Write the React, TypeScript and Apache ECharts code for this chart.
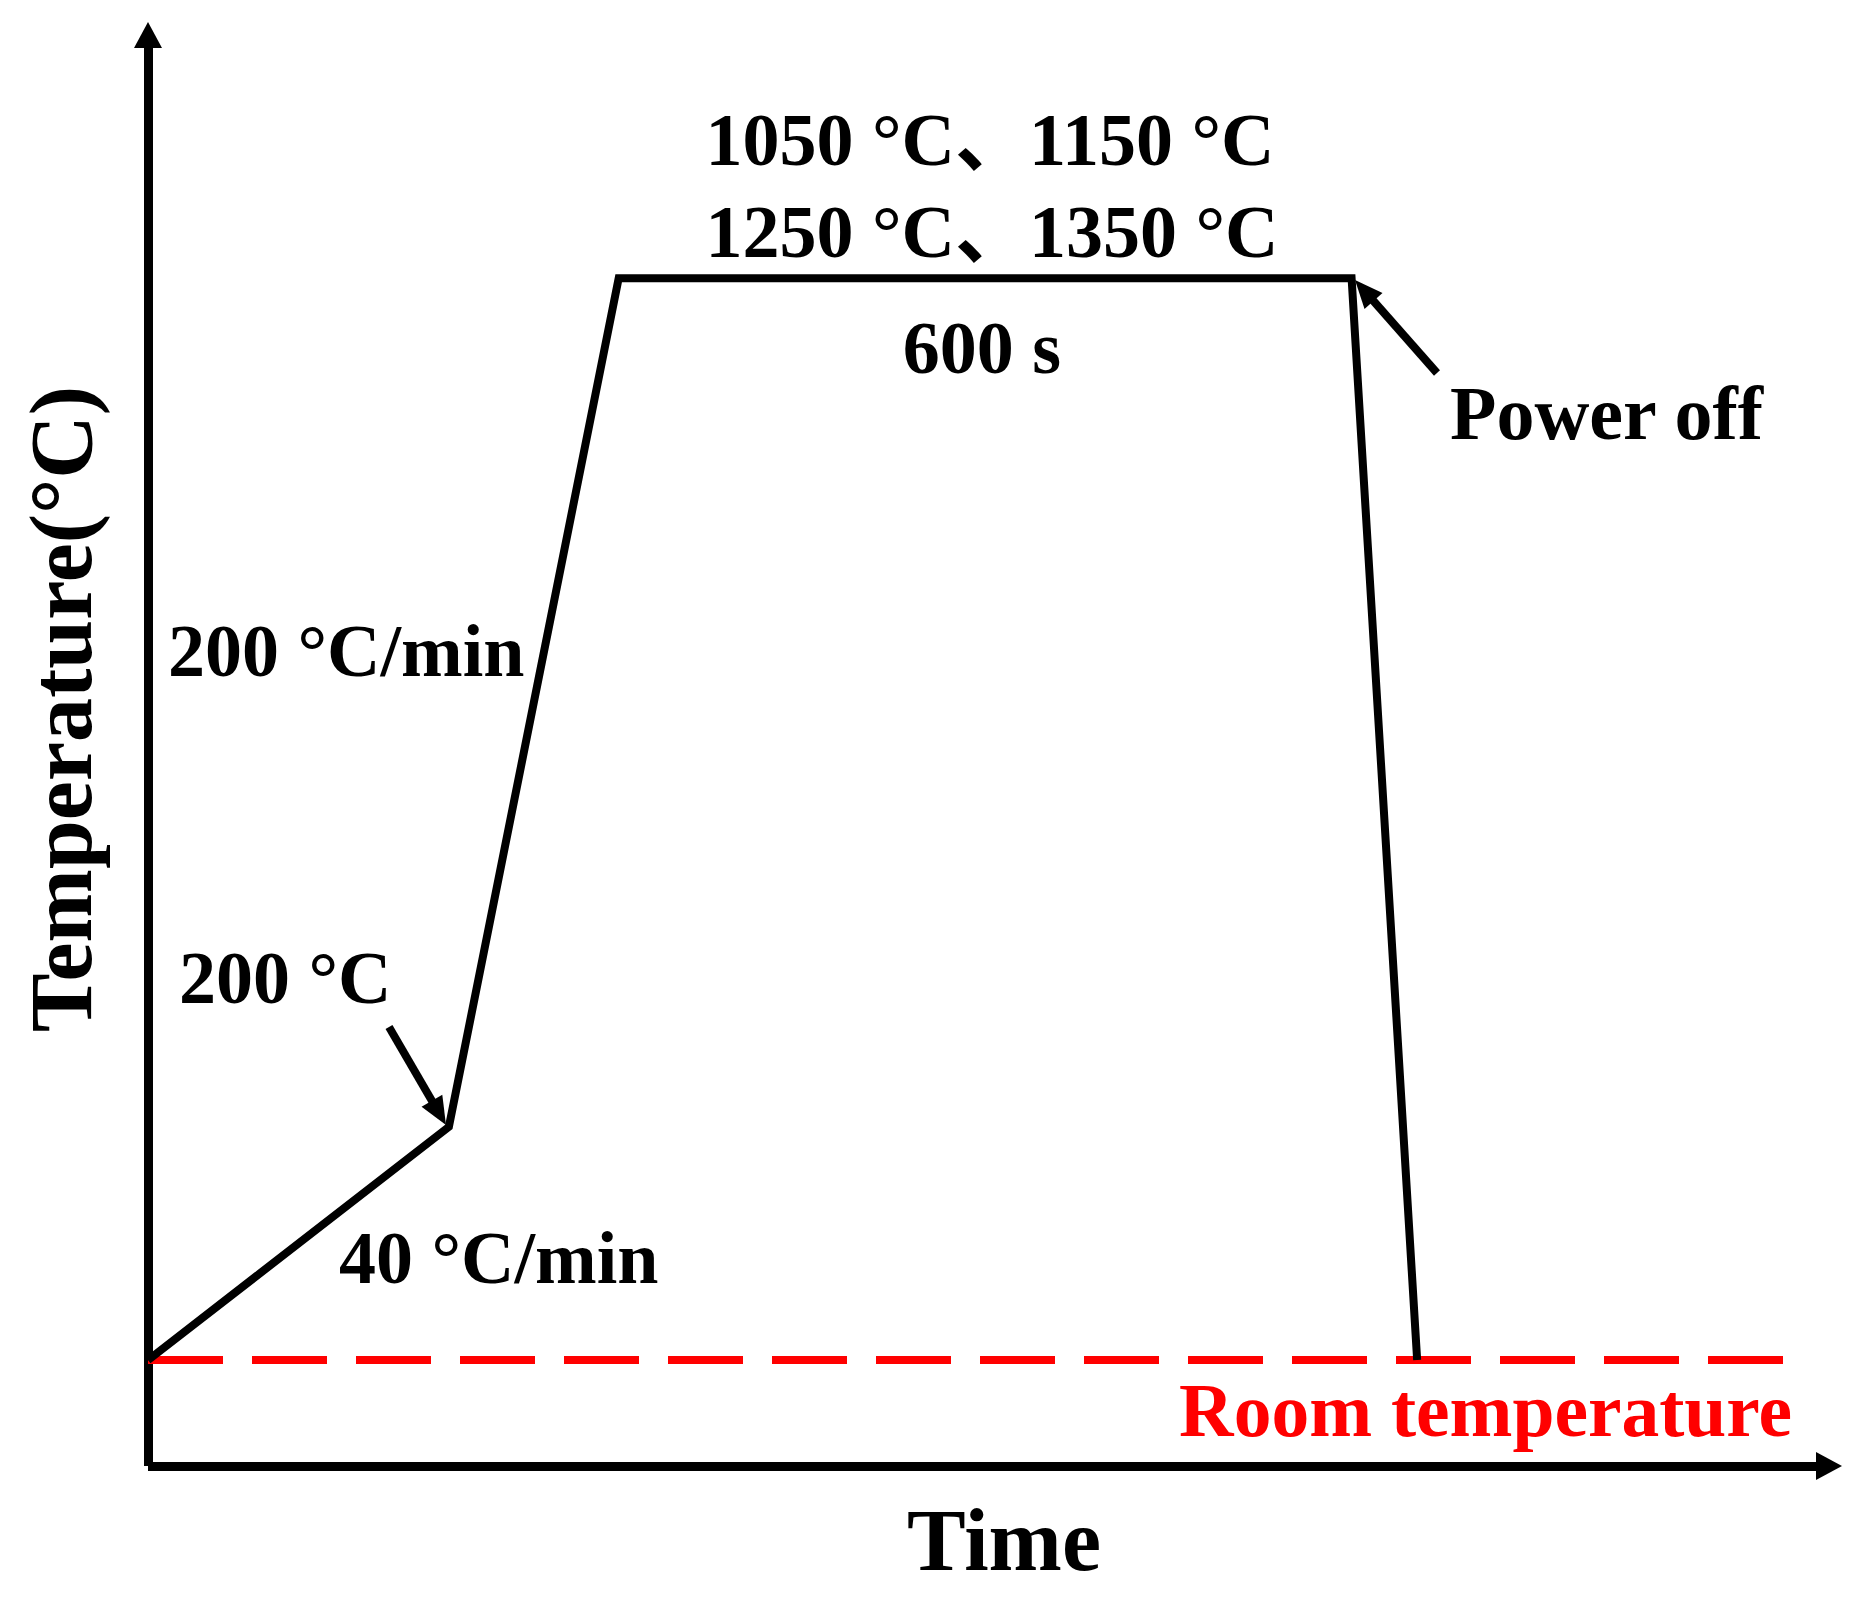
import * as echarts from "echarts";
import { useEffect, useRef } from "react";

// heat-treatment profile, schematic units (0-100 on both axes)
const profileTime = [0, 17.9, 28.0, 71.6, 75.5];
const profileTemp = [7.4, 23.7, 83.0, 83.0, 7.4];
const roomTempLevel = 7.4;
const roomLineEnd = 97.5;

const holdTemps = ["1050 °C、1150 °C", "1250 °C、1350 °C"];
const holdTime = "600 s";
const rateLabels = ["200 °C/min", "40 °C/min"];
const kneeLabel = "200 °C";
const powerOffLabel = "Power off";
const roomLabel = "Room temperature";
const xName = "Time";
const yName = "Temperature(°C)";

const FONT = "'Liberation Serif', 'Times New Roman', 'Noto Sans CJK SC', serif";

function label(text: string, x: number, y: number, align = "left", color = "#000", size = 74) {
	return {
		type: "text",
		x,
		y,
		style: {
			text,
			fill: color,
			fontFamily: FONT,
			fontWeight: "bold",
			fontSize: size,
			align,
			verticalAlign: "middle",
		},
	};
}

function arrow(sx: number, sy: number, tx: number, ty: number) {
	const len = Math.hypot(tx - sx, ty - sy);
	const ux = (tx - sx) / len;
	const uy = (ty - sy) / len;
	const head = 28;
	const half = 12;
	const bx = tx - ux * head;
	const by = ty - uy * head;
	return [
		{
			type: "line",
			shape: { x1: sx, y1: sy, x2: tx - ux * (head - 4), y2: ty - uy * (head - 4) },
			style: { stroke: "#000", lineWidth: 8 },
		},
		{
			type: "polygon",
			shape: {
				points: [
					[tx, ty],
					[bx - uy * half, by + ux * half],
					[bx + uy * half, by - ux * half],
				],
			},
			style: { fill: "#000" },
		},
	];
}

export default function App() {
	const chartRef = useRef<HTMLDivElement>(null);

	useEffect(() => {
		if (!chartRef.current) return;
		document.body.style.margin = "0";
		const chart = echarts.init(chartRef.current, null, { renderer: "svg" });

		const axisCommon = {
			type: "value",
			min: 0,
			max: 100,
			axisLine: {
				show: true,
				symbol: ["none", "triangle"],
				symbolSize: [28, 26],
				lineStyle: { color: "#000", width: 9, cap: "butt" },
			},
			axisTick: { show: false },
			axisLabel: { show: false },
			splitLine: { show: false },
		};

		chart.setOption({
			animation: false,
			backgroundColor: "#fff",
			grid: { left: 148, top: 35, width: 1681, height: 1431 },
			xAxis: axisCommon,
			yAxis: axisCommon,
			series: [
				{
					type: "line",
					data: [
						[0, roomTempLevel],
						[roomLineEnd, roomTempLevel],
					],
					symbol: "none",
					lineStyle: { color: "#ff0000", width: 8, type: [75, 29] },
					silent: true,
				},
				{
					type: "line",
					data: profileTime.map((t, i) => [t, profileTemp[i]]),
					symbol: "none",
					lineStyle: { color: "#000", width: 8, join: "miter" },
					silent: true,
				},
			],
			graphic: [
				label(holdTemps[0], 990, 140, "center"),
				label(holdTemps[1], 992, 232, "center"),
				label(holdTime, 982, 348, "center"),
				label(powerOffLabel, 1450, 413, "left", "#000", 76),
				label(rateLabels[0], 168, 651),
				label(kneeLabel, 179, 978),
				label(rateLabels[1], 339, 1258),
				label(roomLabel, 1792, 1410, "right", "#ff0000", 75.5),
				label(xName, 1004, 1540, "center", "#000", 88),
				{
					...label(yName, 61, 709, "center", "#000", 88),
					rotation: Math.PI / 2,
				},
				...arrow(389, 1027, 446, 1125),
				...arrow(1437, 373, 1355, 280),
			],
		});

		return () => {
			chart.dispose();
		};
	}, []);

	return <div ref={chartRef} style={{ width: 1860, height: 1610 }} />;
}
